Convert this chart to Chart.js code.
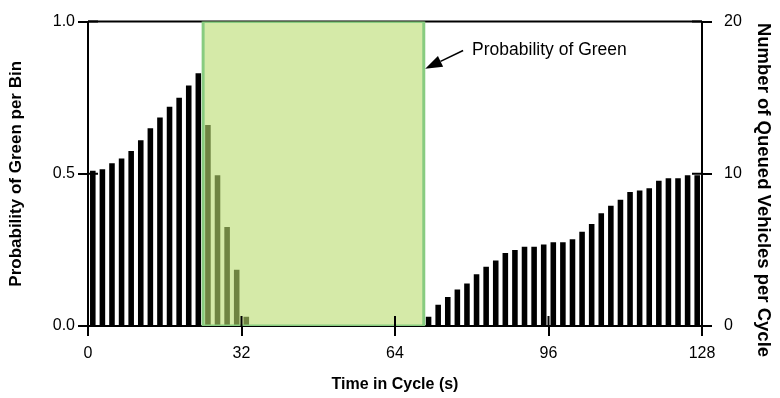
<!DOCTYPE html>
<html>
<head>
<meta charset="utf-8">
<script src="https://cdn.jsdelivr.net/npm/chart.js@4"></script>
<style>
  html, body { margin: 0; padding: 0; background: #fff; }
  #wrap { width: 780px; height: 398px; }
</style>
</head>
<body>
<div id="wrap"><canvas id="queueChart"></canvas></div>
<script>
// bin centres (s) and queued vehicles per bin
const binTimes = [1, 3, 5, 7, 9, 11, 13, 15, 17, 19, 21, 23, 25, 27, 29, 31,
  33, 35, 37, 39, 41, 43, 45, 47, 49, 51, 53, 55, 57, 59, 61, 63,
  65, 67, 69, 71, 73, 75, 77, 79, 81, 83, 85, 87, 89, 91, 93, 95,
  97, 99, 101, 103, 105, 107, 109, 111, 113, 115, 117, 119, 121, 123, 125, 127];
const queuedVehicles = [10.2, 10.3, 10.7, 11.0, 11.5, 12.2, 13.0, 13.7, 14.4, 15.0, 15.8, 16.6, 13.2, 9.9, 6.5, 3.7,
  0.6, 0, 0, 0, 0, 0, 0, 0, 0, 0, 0, 0, 0, 0, 0, 0,
  0, 0, 0, 0.6, 1.4, 1.9, 2.4, 2.8, 3.4, 3.9, 4.3, 4.8, 5.0, 5.2, 5.2, 5.35,
  5.5, 5.5, 5.7, 6.2, 6.7, 7.4, 7.9, 8.3, 8.8, 8.9, 9.05, 9.55, 9.7, 9.7, 9.9, 9.9];

// green phase outline (time, probability)
const greenTimes = [24, 24, 70, 70, 24];
const greenProb = [0, 1, 1, 0, 0];

const xTicks = [0, 32, 64, 96, 128];
const annotationText = "Probability of Green";
const arrowFrom = { x: 78.2, y: 0.905 };
const arrowTo = { x: 70.3, y: 0.845 };
const rightTitle = "Number of Queued Vehicles per Cycle";

Chart.defaults.font.family = '"Liberation Sans", Arial, sans-serif';
Chart.defaults.color = "#000";

const frameTop = {
  id: "frameTop",
  beforeDatasetsDraw(chart) {
    const { ctx, chartArea: a } = chart;
    ctx.save();
    ctx.strokeStyle = "#000";
    ctx.lineWidth = 2;
    ctx.beginPath();
    ctx.moveTo(a.left, a.top);
    ctx.lineTo(a.right, a.top);
    ctx.stroke();
    ctx.restore();
  },
  afterDatasetsDraw(chart) {
    const { ctx, chartArea: a, scales } = chart;
    ctx.save();
    ctx.strokeStyle = "#000";
    ctx.lineWidth = 2;
    ctx.beginPath();
    // ticks crossing into the plot
    scales.x.ticks.forEach((t) => {
      const px = scales.x.getPixelForValue(t.value);
      ctx.moveTo(px, a.bottom);
      ctx.lineTo(px, a.bottom - 10);
    });
    scales.y.ticks.forEach((t) => {
      const py = scales.y.getPixelForValue(t.value);
      ctx.moveTo(a.left, py);
      ctx.lineTo(a.left + 10, py);
    });
    scales.y2.ticks.forEach((t) => {
      const py = scales.y2.getPixelForValue(t.value);
      ctx.moveTo(a.right, py);
      ctx.lineTo(a.right - 10, py);
    });
    ctx.stroke();

    // annotation with arrow
    const x0 = scales.x.getPixelForValue(arrowFrom.x);
    const y0 = scales.y.getPixelForValue(arrowFrom.y);
    const x1 = scales.x.getPixelForValue(arrowTo.x);
    const y1 = scales.y.getPixelForValue(arrowTo.y);
    const ang = Math.atan2(y1 - y0, x1 - x0);
    const head = 17, half = 6;
    const bx = x1 - head * Math.cos(ang), by = y1 - head * Math.sin(ang);
    ctx.lineWidth = 1.5;
    ctx.beginPath();
    ctx.moveTo(x0, y0);
    ctx.lineTo(bx, by);
    ctx.stroke();
    ctx.fillStyle = "#000";
    ctx.beginPath();
    ctx.moveTo(x1, y1);
    ctx.lineTo(bx + half * Math.sin(ang), by - half * Math.cos(ang));
    ctx.lineTo(bx - half * Math.sin(ang), by + half * Math.cos(ang));
    ctx.closePath();
    ctx.fill();

    ctx.font = '17.5px "Liberation Sans", Arial, sans-serif';
    ctx.textBaseline = "middle";
    ctx.textAlign = "left";
    ctx.fillText(annotationText, x0 + 9, y0);

    // right axis title, sits a bit below the plot centre in the original
    ctx.translate(763, 190);
    ctx.rotate(Math.PI / 2);
    ctx.font = 'bold 18.5px "Liberation Sans", Arial, sans-serif';
    ctx.textAlign = "center";
    ctx.fillText(rightTitle, 0, 0);
    ctx.restore();
  },
};

const ctx = document.getElementById("queueChart").getContext("2d");

new Chart(ctx, {
  type: "bar",
  data: {
    datasets: [
      {
        type: "line",
        label: "Probability of Green",
        data: greenTimes.map((t, i) => ({ x: t, y: greenProb[i] })),
        yAxisID: "y",
        borderColor: "#88cc80",
        borderWidth: 3,
        backgroundColor: "rgba(185,220,110,0.6)",
        fill: "shape",
        pointRadius: 0,
        tension: 0,
        order: 0,
      },
      {
        type: "bar",
        label: "Queued Vehicles",
        data: binTimes.map((t, i) => ({ x: t, y: queuedVehicles[i] })),
        yAxisID: "y2",
        backgroundColor: "#000",
        barPercentage: 0.58,
        categoryPercentage: 1,
        order: 1,
      },
    ],
  },
  options: {
    responsive: true,
    maintainAspectRatio: false,
    animation: false,
    devicePixelRatio: 1,
    layout: { padding: { top: 19, left: 0, right: 0, bottom: 0 } },
    plugins: {
      legend: { display: false },
      tooltip: { enabled: false },
    },
    scales: {
      x: {
        type: "linear",
        min: 0,
        max: 128,
        offset: false,
        afterBuildTicks: (s) => { s.ticks = xTicks.map((v) => ({ value: v })); },
        afterFit: (s) => { s.height = 72; },
        ticks: { font: { size: 16 }, padding: 8, maxRotation: 0, color: "#000" },
        grid: { offset: false, drawOnChartArea: false, tickLength: 10, color: "#000", lineWidth: 2 },
        border: { display: true, color: "#000", width: 2 },
        title: {
          display: true,
          text: "Time in Cycle (s)",
          font: { size: 16, weight: "bold", lineHeight: 1 },
          padding: { top: 0, bottom: 5 },
          color: "#000",
        },
      },
      y: {
        position: "left",
        min: 0,
        max: 1,
        afterFit: (s) => { s.width = 88; },
        ticks: { stepSize: 0.5, font: { size: 16 }, padding: 3, color: "#000",
          callback: (v) => v.toFixed(1) },
        grid: { drawOnChartArea: false, tickLength: 10, color: "#000", lineWidth: 2 },
        border: { display: true, color: "#000", width: 2 },
        title: {
          display: true,
          text: "Probability of Green per Bin",
          font: { size: 17, weight: "bold", lineHeight: 1 },
          padding: { top: 8, bottom: 0 },
          color: "#000",
        },
      },
      y2: {
        position: "right",
        min: 0,
        max: 20,
        afterFit: (s) => { s.width = 78; },
        ticks: { stepSize: 10, font: { size: 16 }, padding: 12, color: "#000" },
        grid: { drawOnChartArea: false, tickLength: 10, color: "#000", lineWidth: 2 },
        border: { display: true, color: "#000", width: 2 },
        title: { display: false },
      },
    },
  },
  plugins: [frameTop],
});
</script>
</body>
</html>
